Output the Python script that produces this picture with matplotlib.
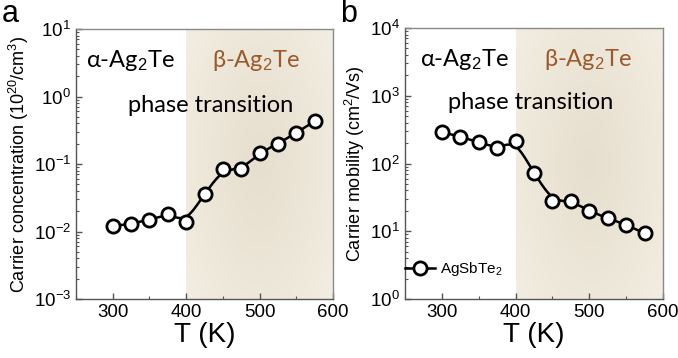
import numpy as np
import matplotlib.pyplot as plt
from matplotlib.colors import LinearSegmentedColormap

plt.rcParams['font.family'] = ['Liberation Sans', 'DejaVu Sans']
plt.rcParams['mathtext.fontset'] = 'custom'
plt.rcParams['mathtext.rm'] = 'Liberation Sans'
plt.rcParams['mathtext.it'] = 'Liberation Sans:italic'
plt.rcParams['mathtext.bf'] = 'Liberation Sans:bold'

# data
T = [300, 325, 350, 375, 400, 425, 450, 475, 500, 525, 550, 575]
carrier_conc = [0.012, 0.013, 0.015, 0.018, 0.014, 0.036, 0.083, 0.083,
                0.145, 0.20, 0.29, 0.43]
mobility = [290, 250, 205, 170, 215, 72, 28, 28, 20, 15.5, 12.5, 9.3]

LABEL_FONT = ['Lato', 'DejaVu Sans']
BETA_COLOR = '#9a5a2c'


def smooth_log_curve(x, y, width=9.0, n=400):
    # gaussian-smoothed piecewise-linear curve in log space
    x = np.asarray(x, float)
    ly = np.log10(y)
    xs = np.linspace(x[0], x[-1], n)
    lin = np.interp(xs, x, ly)
    pad = int(4 * width / (xs[1] - xs[0]))
    ext = np.concatenate([np.full(pad, lin[0]) + (lin[0] - lin[pad:0:-1]),
                          lin,
                          lin[-1] + (lin[-1] - lin[-2:-pad - 2:-1])])
    k = np.arange(-pad, pad + 1) * (xs[1] - xs[0])
    kern = np.exp(-0.5 * (k / width) ** 2)
    kern /= kern.sum()
    sm = np.convolve(ext, kern, mode='same')[pad:-pad]
    return xs, 10 ** sm


def beige_region(ax):
    cmap = LinearSegmentedColormap.from_list('beige', ['#e6dece', '#f3eee2'])
    gx, gy = np.meshgrid(np.linspace(-1, 1, 100), np.linspace(-1, 1, 100))
    r = np.sqrt(gx ** 2 + (gy * 0.8) ** 2)
    x0 = (400 - 250) / 350.0
    ax.imshow(r, cmap=cmap, vmin=0, vmax=1.3, extent=(x0, 1, 0, 1),
              transform=ax.transAxes, aspect='auto', zorder=0,
              interpolation='bilinear')


def style_axes(ax):
    ax.set_xlim(250, 600)
    ax.set_yscale('log')
    ax.set_xticks([300, 400, 500, 600])
    ax.set_xticks([250, 350, 450, 550], minor=True)
    ax.tick_params(which='both', direction='in', labelsize=13.5, colors='#555555',
                   labelcolor='black')
    ax.tick_params(which='major', length=4, width=1)
    ax.tick_params(which='minor', length=2.5, width=0.8)
    for s in ax.spines.values():
        s.set_color('#8a8a8a')
        s.set_linewidth(1)
    ax.spines['left'].set_color('#555555')
    ax.spines['bottom'].set_color('#555555')
    ax.set_xlabel('T (K)', fontsize=20, labelpad=1)


fig = plt.figure(figsize=(6.78, 3.58), dpi=100)
ax1 = fig.add_axes([76 / 678, 1 - 299 / 358, 257 / 678, 270 / 358])
ax2 = fig.add_axes([405 / 678, 1 - 299 / 358, 258 / 678, 271 / 358])

for ax, y, ylim, ylabel in [
        (ax1, carrier_conc, (1e-3, 1e1), 'Carrier concentration (10$^{20}$/cm$^{3}$)'),
        (ax2, mobility, (1e0, 1e4), 'Carrier mobility (cm$^{2}$/Vs)')]:
    beige_region(ax)
    xs, ys = smooth_log_curve(T, y)
    ax.plot(xs, ys, color='black', lw=1.8, zorder=3)
    ax.plot(T, y, 'o', ms=9.5, mfc='white', mec='black', mew=2, zorder=4)
    style_axes(ax)
    ax.set_ylim(*ylim)
    ax.set_ylabel(ylabel, fontsize=13, labelpad=2)

# phase labels
PH = 17
ax1.text(0.21, 0.885, r'$\mathregular{\alpha}$-Ag$_2$Te', transform=ax1.transAxes,
         fontsize=PH, family=LABEL_FONT, ha='center', va='center')
ax1.text(0.7, 0.885, 'β-Ag$_2$Te', transform=ax1.transAxes, color=BETA_COLOR,
         fontsize=PH, family=LABEL_FONT, ha='center', va='center')
ax1.text(0.525, 0.715, 'phase transition', transform=ax1.transAxes,
         fontsize=PH, family=LABEL_FONT, ha='center', va='center')
ax2.text(0.23, 0.885, r'$\mathregular{\alpha}$-Ag$_2$Te', transform=ax2.transAxes,
         fontsize=PH, family=LABEL_FONT, ha='center', va='center')
ax2.text(0.71, 0.885, 'β-Ag$_2$Te', transform=ax2.transAxes, color=BETA_COLOR,
         fontsize=PH, family=LABEL_FONT, ha='center', va='center')
ax2.text(0.485, 0.725, 'phase transition', transform=ax2.transAxes,
         fontsize=PH, family=LABEL_FONT, ha='center', va='center')

# legend
h, = ax2.plot([], [], '-o', color='black', lw=1.8, ms=9.5, mfc='white', mec='black', mew=2)
ax2.legend([h], ['AgSbTe$_2$'], loc='lower left', bbox_to_anchor=(-0.055, 0.025),
           frameon=False, fontsize=11, handlelength=2.0, handletextpad=0.3)

fig.text(2 / 678, 1 - 14 / 358, 'a', fontsize=22, va='center', ha='left')
fig.text(340 / 678, 1 - 14 / 358, 'b', fontsize=22, va='center', ha='left')

fig.savefig('out.png', dpi=100)
